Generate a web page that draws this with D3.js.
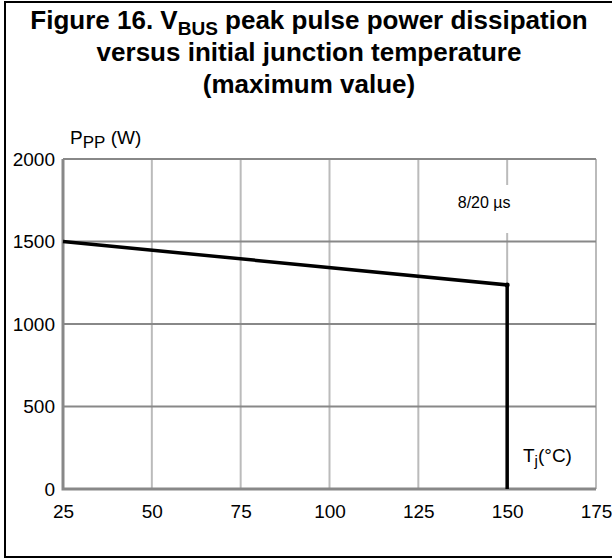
<!DOCTYPE html>
<html>
<head>
<meta charset="utf-8">
<script src="https://cdn.jsdelivr.net/npm/d3@7"></script>
<style>
  body { margin: 0; background: #fff; }
  svg { font-family: "Liberation Sans", Arial, sans-serif; }
</style>
</head>
<body>
<div id="chart"></div>
<script>
// temperature (°C) vs peak pulse power (W)
var tempValues = [25, 150, 150];
var powerValues = [1500, 1237, 0];
var xTicks = [25, 50, 75, 100, 125, 150, 175];
var yTicks = [0, 500, 1000, 1500, 2000];

var W = 612, H = 558;
var margin = {left: 63, right: 16, top: 159, bottom: 69};

var svg = d3.select('#chart').append('svg')
  .attr('width', W)
  .attr('height', H);

// outer frame
svg.append('path')
  .attr('d', 'M612,2H5V557H612')
  .attr('fill', 'none')
  .attr('stroke', '#000')
  .attr('stroke-width', 2);

// title
var title = svg.append('text')
  .attr('text-anchor', 'middle')
  .attr('font-weight', 'bold')
  .attr('font-size', 26);
var t1 = title.append('tspan').attr('x', 309).attr('y', 29);
t1.append('tspan').text('Figure 16. V');
t1.append('tspan').attr('font-size', 19).attr('dy', 6).text('BUS');
t1.append('tspan').attr('dy', -6).text(' peak pulse power dissipation');
title.append('tspan').attr('x', 309).attr('y', 61).text('versus initial junction temperature');
title.append('tspan').attr('x', 309).attr('y', 93).text('(maximum value)');

var x = d3.scaleLinear().domain([25, 175]).range([margin.left, W - margin.right]);
var y = d3.scaleLinear().domain([0, 2000]).range([H - margin.bottom, margin.top]);

var g = svg.append('g');

// vertical grid (light)
g.selectAll('.vgrid')
  .data(xTicks.slice(1))
  .enter().append('line')
    .attr('class', 'vgrid')
    .attr('x1', function(d) { return x(d); })
    .attr('x2', function(d) { return x(d); })
    .attr('y1', y(0))
    .attr('y2', y(2000))
    .attr('stroke', '#bbb')
    .attr('stroke-width', 2);

// horizontal grid (darker)
g.selectAll('.hgrid')
  .data(yTicks.slice(1))
  .enter().append('line')
    .attr('class', 'hgrid')
    .attr('x1', x(25))
    .attr('x2', x(175))
    .attr('y1', function(d) { return y(d); })
    .attr('y2', function(d) { return y(d); })
    .attr('stroke', '#888')
    .attr('stroke-width', 2);

// gap in the 150 gridline for the label
g.append('rect')
  .attr('x', x(150) - 30)
  .attr('y', 185)
  .attr('width', 60)
  .attr('height', 48)
  .attr('fill', '#fff');

g.append('text')
  .attr('x', x(150) - 23)
  .attr('y', 208)
  .attr('text-anchor', 'middle')
  .attr('font-size', 16)
  .text('8/20 µs');

// axes lines
g.append('path')
  .attr('d', 'M' + x(25) + ',' + y(2000) + 'V' + y(0) + 'H' + x(175))
  .attr('fill', 'none')
  .attr('stroke', '#888')
  .attr('stroke-width', 3);

function styleTicks(s) {
  s.select('.domain').remove();
  s.selectAll('text').attr('font-size', 19).attr('fill', '#000')
    .attr('font-family', '"Liberation Sans", Arial, sans-serif');
}

// tick labels
var xAxis = d3.axisBottom(x).tickValues(xTicks).tickFormat(d3.format('d'))
  .tickSize(0).tickPadding(16);
svg.append('g')
  .attr('transform', 'translate(0,' + y(0) + ')')
  .call(xAxis)
  .call(styleTicks);

var yAxis = d3.axisLeft(y).tickValues(yTicks).tickFormat(d3.format('d'))
  .tickSize(0).tickPadding(8);
svg.append('g')
  .attr('transform', 'translate(' + x(25) + ',0)')
  .call(yAxis)
  .call(styleTicks);

// data line
var line = d3.line()
  .x(function(d, i) { return x(tempValues[i]); })
  .y(function(d) { return y(d); });

g.append('path')
  .datum(powerValues)
  .attr('d', line)
  .attr('fill', 'none')
  .attr('stroke', '#000')
  .attr('stroke-width', 3.5);

g.append('circle')
  .attr('cx', x(tempValues[1]))
  .attr('cy', y(powerValues[1]))
  .attr('r', 2.5);

// axis titles
var yl = svg.append('text')
  .attr('x', 70)
  .attr('y', 144)
  .attr('font-size', 19);
yl.append('tspan').text('P');
yl.append('tspan').attr('font-size', 17).attr('dy', 4).text('PP');
yl.append('tspan').attr('dy', -4).text(' (W)');

var xl = svg.append('text')
  .attr('x', 523)
  .attr('y', 462)
  .attr('font-size', 19);
xl.append('tspan').text('T');
xl.append('tspan').attr('font-size', 15).attr('dy', 4).text('j');
xl.append('tspan').attr('dy', -4).text('(°C)');
</script>
</body>
</html>
